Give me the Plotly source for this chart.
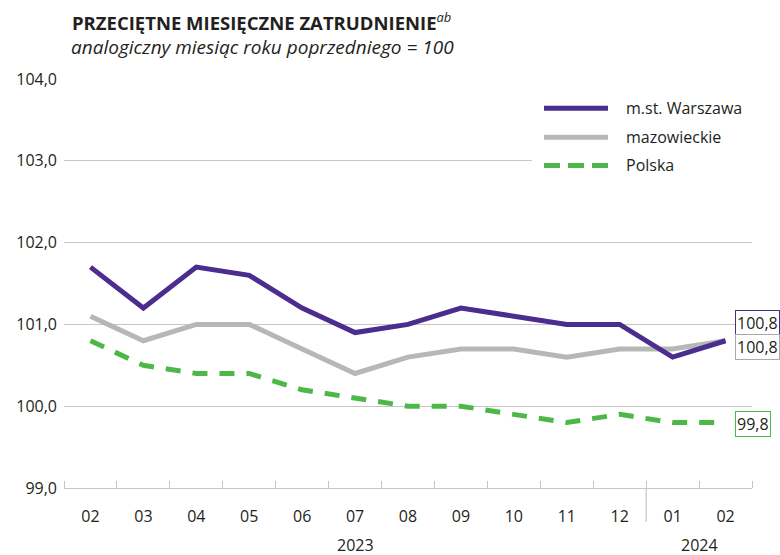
import plotly.graph_objects as go

months = ["02", "03", "04", "05", "06", "07", "08", "09", "10", "11", "12", "01", "02"]
years = ["2023", "2024"]
series_names = ["m.st. Warszawa", "mazowieckie", "Polska"]
warszawa = [101.7, 101.2, 101.7, 101.6, 101.2, 100.9, 101.0, 101.2, 101.1, 101.0, 101.0, 100.6, 100.8]
mazowieckie = [101.1, 100.8, 101.0, 101.0, 100.7, 100.4, 100.6, 100.7, 100.7, 100.6, 100.7, 100.7, 100.8]
polska = [100.8, 100.5, 100.4, 100.4, 100.2, 100.1, 100.0, 100.0, 99.9, 99.8, 99.9, 99.8, 99.8]

PURPLE = "#4B2C8F"
GRAY = "#B6B8B8"
GREEN = "#4DB848"
TXT = "#231F20"
GRID = "#C6C6C6"
FONT = "Open Sans"

x = list(range(len(months)))
series = [warszawa, mazowieckie, polska]
colors = [PURPLE, GRAY, GREEN]
dashes = ["solid", "solid", "15px,12px"]

fig = go.Figure()
# draw gray first, then green, then purple on top
for idx in [1, 2, 0]:
    fig.add_trace(go.Scatter(
        x=x, y=series[idx], mode="lines", name=series_names[idx],
        line=dict(color=colors[idx], width=5, dash=dashes[idx]),
        showlegend=False, hoverinfo="skip",
    ))

W, H = 780, 555
L, R, T, B = 64, 28, 78.5, 67.3
pw = W - L - R
ph = H - T - B

def px_x(p):
    return (p - L) / pw

def px_y(p):
    return (H - B - p) / ph

shapes = []
annotations = []

# white box behind legend
shapes.append(dict(type="rect", xref="paper", yref="paper",
                   x0=px_x(532), x1=px_x(752), y0=px_y(180), y1=px_y(90),
                   fillcolor="white", line=dict(width=0), layer="above"))

legend_rows = [107.7, 136.7, 165]
for name, col, d, ry in zip(series_names, colors, ["solid", "solid", "16px,8px"], legend_rows):
    shapes.append(dict(type="line", xref="paper", yref="paper",
                       x0=px_x(544), x1=px_x(608), y0=px_y(ry), y1=px_y(ry),
                       line=dict(color=col, width=5, dash=d), layer="above"))
    annotations.append(dict(xref="paper", yref="paper", x=px_x(624), y=px_y(ry),
                            xanchor="left", yanchor="middle", showarrow=False,
                            text=name, font=dict(family=FONT, size=16, color=TXT)))

# year separator
shapes.append(dict(type="line", xref="x", yref="paper", x0=10.5, x1=10.5,
                   y0=0, y1=px_y(521.7), line=dict(color=GRID, width=1.2)))

# year labels
annotations.append(dict(xref="x", yref="paper", x=5, y=px_y(545), text=years[0],
                        showarrow=False, xanchor="center", yanchor="middle",
                        font=dict(family=FONT, size=16, color=TXT)))
annotations.append(dict(xref="x", yref="paper", x=11.5, y=px_y(545), text=years[1],
                        showarrow=False, xanchor="center", yanchor="middle",
                        font=dict(family=FONT, size=16, color=TXT)))

# end labels
last = len(months) - 1
for vals, col, ysh in [(warszawa, PURPLE, 18), (mazowieckie, "#A8AAAA", -6.5), (polska, GREEN, -1.5)]:
    v = vals[last]
    annotations.append(dict(xref="x", yref="y", x=last, y=v, xshift=9.5, yshift=ysh,
                            xanchor="left", yanchor="middle", showarrow=False,
                            text=f"{v:.1f}".replace(".", ","),
                            font=dict(family=FONT, size=16, color=TXT),
                            bordercolor=col, borderwidth=1, borderpad=1,
                            bgcolor="white"))

# title and subtitle
annotations.append(dict(xref="paper", yref="paper", x=px_x(70), y=px_y(21),
                        xanchor="left", yanchor="middle", showarrow=False,
                        text="<b>PRZECIĘTNE MIESIĘCZNE ZATRUDNIENIE</b><sup><i>ab</i></sup>",
                        font=dict(family=FONT, size=18.5, color=TXT)))
annotations.append(dict(xref="paper", yref="paper", x=px_x(69), y=px_y(46),
                        xanchor="left", yanchor="middle", showarrow=False,
                        text="<i>analogiczny miesiąc roku poprzedniego = 100</i>",
                        font=dict(family=FONT, size=19, color=TXT)))

fig.update_layout(
    width=W, height=H,
    margin=dict(l=L, r=R, t=T, b=B),
    paper_bgcolor="white", plot_bgcolor="white",
    separators=", ",
    showlegend=False,
    shapes=shapes,
    annotations=annotations,
    font=dict(family=FONT, size=16, color=TXT),
)
fig.update_xaxes(
    range=[-0.5, 12.5], tickmode="array", tickvals=x, ticktext=months,
    ticks="", showgrid=False, zeroline=False,
    showline=True, linecolor=GRID, linewidth=1.2,
    tickfont=dict(family=FONT, size=16, color=TXT),
    ticklabelstandoff=14,
    minor=dict(tickmode="linear", tick0=-0.5, dtick=1, ticks="inside",
               ticklen=7, tickcolor=GRID, tickwidth=1.2, showgrid=False),
)
fig.update_yaxes(
    range=[99, 104], tickmode="linear", tick0=99, dtick=1, tickformat=".1f",
    showgrid=True, gridcolor=GRID, gridwidth=1.2, zeroline=False, showline=False,
    ticks="", tickfont=dict(family=FONT, size=16, color=TXT),
    ticklabelstandoff=6,
)

fig.write_html("out.html", config={"displayModeBar": False},
               post_script="document.body.style.margin='0';")
